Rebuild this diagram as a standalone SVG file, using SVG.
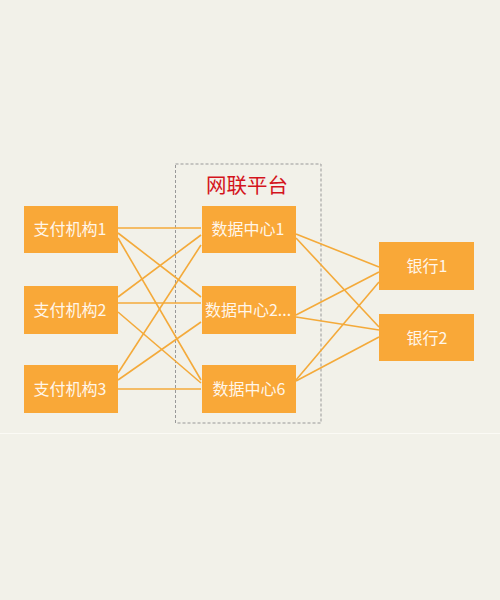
<svg xmlns="http://www.w3.org/2000/svg" width="500" height="600" viewBox="0 0 500 600">
<style>
.bg{fill:#f2f1e9}
.box{fill:#f9a838}
.lbl{fill:#fff6ea;font-family:"Noto Sans CJK SC","Liberation Sans",sans-serif;font-size:16px;text-anchor:middle}
.ln{stroke:#f4aa3a;stroke-width:1.6;fill:none}
</style>
<rect class="bg" x="0" y="0" width="500" height="600"/>
<line x1="0" y1="433.5" x2="500" y2="433.5" stroke="#fbfaf5" stroke-width="1"/>
<g id="platform">
<rect x="175.5" y="164" width="145.5" height="259" fill="none" stroke="#999" stroke-width="1" stroke-dasharray="3,2"/>
<text x="247" y="193" font-family="'Noto Sans CJK SC','Liberation Sans',sans-serif" font-size="20.5" fill="#d4141c" text-anchor="middle">网联平台</text>
</g>
<g id="connectors">
<line class="ln" x1="118" y1="228" x2="201" y2="228"/>
<line class="ln" x1="118" y1="233" x2="201" y2="297"/>
<line class="ln" x1="118" y1="238" x2="201" y2="380"/>
<line class="ln" x1="118" y1="303" x2="201" y2="303"/>
<line class="ln" x1="118" y1="297" x2="201" y2="235"/>
<line class="ln" x1="118" y1="312" x2="201" y2="383"/>
<line class="ln" x1="118" y1="389" x2="201" y2="389"/>
<line class="ln" x1="118" y1="373" x2="201" y2="245"/>
<line class="ln" x1="118" y1="380" x2="201" y2="322"/>
<line class="ln" x1="296" y1="234" x2="379" y2="267"/>
<line class="ln" x1="296" y1="238" x2="379" y2="327"/>
<line class="ln" x1="296" y1="315" x2="379" y2="272"/>
<line class="ln" x1="296" y1="317" x2="379" y2="330"/>
<line class="ln" x1="296" y1="380" x2="379" y2="282"/>
<line class="ln" x1="296" y1="381" x2="379" y2="337"/>
</g>
<g id="pay1"><rect class="box" x="24" y="206" width="94" height="47"/><text class="lbl" x="70" y="235">支付机构1</text></g>
<g id="pay2"><rect class="box" x="24" y="286" width="94" height="48"/><text class="lbl" x="70" y="316">支付机构2</text></g>
<g id="pay3"><rect class="box" x="24" y="365" width="94" height="48"/><text class="lbl" x="70" y="395">支付机构3</text></g>
<g id="dc1"><rect class="box" x="202" y="206" width="94" height="47"/><text class="lbl" x="248" y="235">数据中心1</text></g>
<g id="dc2"><rect class="box" x="202" y="286" width="94" height="48"/><text class="lbl" x="248" y="316">数据中心2...</text></g>
<g id="dc6"><rect class="box" x="202" y="365" width="94" height="48"/><text class="lbl" x="249" y="395">数据中心6</text></g>
<g id="bank1"><rect class="box" x="379" y="242" width="95" height="48"/><text class="lbl" x="427" y="272">银行1</text></g>
<g id="bank2"><rect class="box" x="379" y="314" width="95" height="47"/><text class="lbl" x="427" y="344">银行2</text></g>
</svg>
